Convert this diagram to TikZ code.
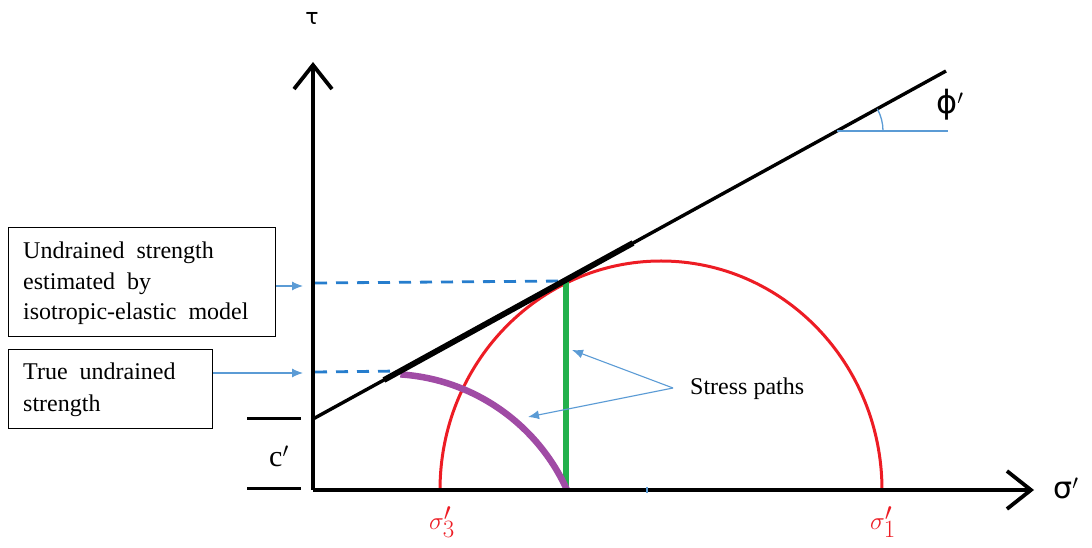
\documentclass[tikz,border=0pt]{standalone}
\usepackage{fontspec}
\setmainfont{Liberation Serif}
\newfontfamily\symfont{DejaVu Sans}
\usetikzlibrary{arrows.meta}
\definecolor{envred}{RGB}{237,28,36}
\definecolor{pathgreen}{RGB}{34,177,76}
\definecolor{pathpurple}{RGB}{160,75,165}
\definecolor{dashblue}{RGB}{38,125,205}
\definecolor{lightblue}{RGB}{91,155,213}
\tikzset{
  axisline/.style={line width=3.8pt,-{Straight Barb[length=24pt,width=38pt,line width=3.8pt]}},
  dashref/.style={dashblue,line width=2.8pt,dash pattern=on 12pt off 9pt},
  pointer/.style={lightblue,line width=1.1pt,-{Latex[length=11pt,width=9pt]}},
  labelbox/.style={draw,line width=1.1pt,inner sep=0pt,anchor=north west},
  boxtext/.style={align=left,anchor=north west,inner sep=0pt},
  redlabel/.style={text=envred,font=\fontsize{33}{36}\selectfont},
  symlabel/.style={font=\symfont\fontsize{24}{28}\selectfont}
}
\begin{document}
\begin{tikzpicture}[x=1pt,y=1pt]
\useasboundingbox (0,0) rectangle (1092,548);
% coordinates
\coordinate (O) at (313,58);
\coordinate (ytip) at (313,486);
\coordinate (xtip) at (1034,58);
\coordinate (env0) at (313,129);
\coordinate (env1) at (946,477);
\coordinate (thk0) at (384,168);
\coordinate (thk1) at (633,305);
\coordinate (T) at (566,267);
\coordinate (Tb) at (566,58);
\coordinate (P) at (401,177);
\coordinate (s3) at (440,58);
\coordinate (s1) at (882,58);
\coordinate (d1a) at (315,265);
\coordinate (d2a) at (315,176);
\coordinate (ax1) at (303,262);
\coordinate (ax2) at (303,175);
\coordinate (apex) at (837,417);
\coordinate (angend) at (948,417);
% dashed references
\draw[dashref] (d1a) -- (T);
\draw[dashref] (d2a) -- (P);
% Mohr circle
\draw[envred,line width=3pt] (s1) arc[start angle=0,end angle=180,x radius=221,y radius=229];
% stress paths
\draw[pathgreen,line width=5.5pt] (Tb) -- (T);
\draw[pathpurple,line width=6.5pt] (567,58) arc[start angle=24.2,end angle=86.3,radius=196.6];
% failure envelope
\draw[line width=3.4pt] (env0) -- (env1);
\draw[line width=5.8pt] (thk0) -- (thk1);
% axes
\draw[axisline] (O) -- (ytip);
\draw[axisline] (O) -- (xtip);
\draw[lightblue,line width=2pt] (647,55) -- (647,61);
% c' marks
\coordinate (cm1a) at (247,129); \coordinate (cm1b) at (301,129);
\coordinate (cm2a) at (247,59); \coordinate (cm2b) at (301,59);
\draw[line width=3pt] (cm1a) -- (cm1b);
\draw[line width=3pt] (cm2a) -- (cm2b);
\node (cp) at (279,92) {\fontsize{30}{32}\selectfont c$'$};
% angle phi
\draw[lightblue,line width=1.3pt] (apex) -- (angend);
\draw[lightblue,line width=1.3pt] ([shift={(46,0)}]apex) arc[start angle=0,end angle=28.8,radius=46];
\node[font=\fontsize{32}{34}\selectfont] (phi) at (950,443) {{\symfont ϕ}$'$};
% axis labels
\node[symlabel,font=\symfont\fontsize{22}{24}\selectfont] (tau) at (312,530) {τ};
\node[font=\fontsize{30}{32}\selectfont] (sig) at (1066,60) {{\symfont σ}$'$};
\node[redlabel] (s3l) at (442,26) {$\sigma_3'$};
\node[redlabel] (s1l) at (883,26) {$\sigma_1'$};
% boxes
\node[labelbox,minimum width=267pt,minimum height=109pt] (box1) at (8,321) {};
\node[boxtext,font=\fontsize{24}{30.5}\selectfont] (t1) at (23,306) {Undrained\ \ strength\\estimated\ \ by\\isotropic-elastic\ \ model};
\node[labelbox,minimum width=204pt,minimum height=79pt] (box2) at (8,199) {};
\node[boxtext,font=\fontsize{24}{32}\selectfont] (t2) at (23,185) {True\ \ undrained\\strength};
\draw[pointer] (box1.east |- ax1) -- (ax1);
\draw[pointer] (box2.east |- ax2) -- (ax2);
% stress paths label
\node[font=\fontsize{24}{26}\selectfont,anchor=west,inner sep=0pt] (sp) at (690,159) {Stress paths};
\coordinate (spo) at (673,160);
\draw[pointer] (spo) -- (572,198);
\draw[pointer] (spo) -- (528,131);
\end{tikzpicture}
\end{document}
